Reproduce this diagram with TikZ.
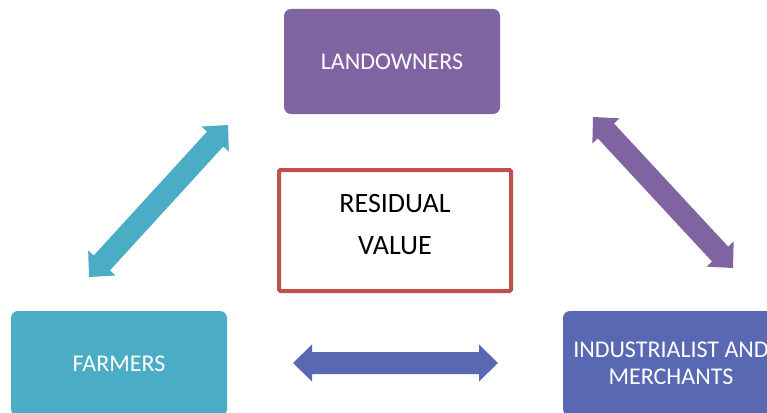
\documentclass[tikz,border=0pt]{standalone}
\usepackage{fontspec}
\setmainfont{Carlito}
\usetikzlibrary{calc}
\definecolor{cpurple}{HTML}{8064A2}
\definecolor{ccyan}{HTML}{4BACC6}
\definecolor{cred}{HTML}{C0504D}
\definecolor{cblue}{RGB}{88,104,178}
\tikzset{
  box/.style={rectangle, rounded corners=7pt, minimum width=216pt, minimum height=105pt,
    inner sep=0pt, text=white, align=center, font=\fontsize{24}{27}\selectfont},
  resbox/.style={rectangle, rounded corners=1.5pt, draw=cred, line width=4pt, fill=white,
    minimum width=232pt, minimum height=121pt, inner sep=0pt, align=center,
    font=\fontsize{28}{42}\selectfont},
}
\newcommand{\dblarrow}[3]{%
  \coordinate (ha) at ($(#1)!19pt!(#2)$);
  \coordinate (hb) at ($(#2)!19pt!(#1)$);
  \fill[#3] (#1) -- ($(ha)!18.5pt!90:(#2)$) -- ($(ha)!11pt!90:(#2)$)
    -- ($(hb)!11pt!-90:(#1)$) -- ($(hb)!18.5pt!-90:(#1)$) -- (#2)
    -- ($(hb)!18.5pt!90:(#1)$) -- ($(hb)!11pt!90:(#1)$)
    -- ($(ha)!11pt!-90:(#2)$) -- ($(ha)!18.5pt!-90:(#2)$) -- cycle;}
\begin{document}
\begin{tikzpicture}[x=1pt,y=-1pt]
  \clip (0,0) rectangle (767,412);
  \fill[white] (0,0) rectangle (767,412);
  \node[box, fill=cpurple] (land) at (392,61.5) {LANDOWNERS};
  \node[box, fill=ccyan] (farm) at (119,363.5) {FARMERS};
  \node[box, fill=cblue] (ind) at (671,363.5) {INDUSTRIALIST AND\\MERCHANTS};
  \node[resbox] (res) at (395,230.5) {};
  \node[inner sep=0pt, align=center, font=\fontsize{28}{42}\selectfont] (restext) at (395,224.5) {RESIDUAL\\VALUE};
  \coordinate (c1) at (228,125);
  \coordinate (c2) at (89,277);
  \coordinate (p1) at (593,117);
  \coordinate (p2) at (733,268);
  \coordinate (b1) at (293,363);
  \coordinate (b2) at (498,363);
  \dblarrow{c1}{c2}{ccyan}
  \dblarrow{p1}{p2}{cpurple}
  \dblarrow{b1}{b2}{cblue}
\end{tikzpicture}
\end{document}
